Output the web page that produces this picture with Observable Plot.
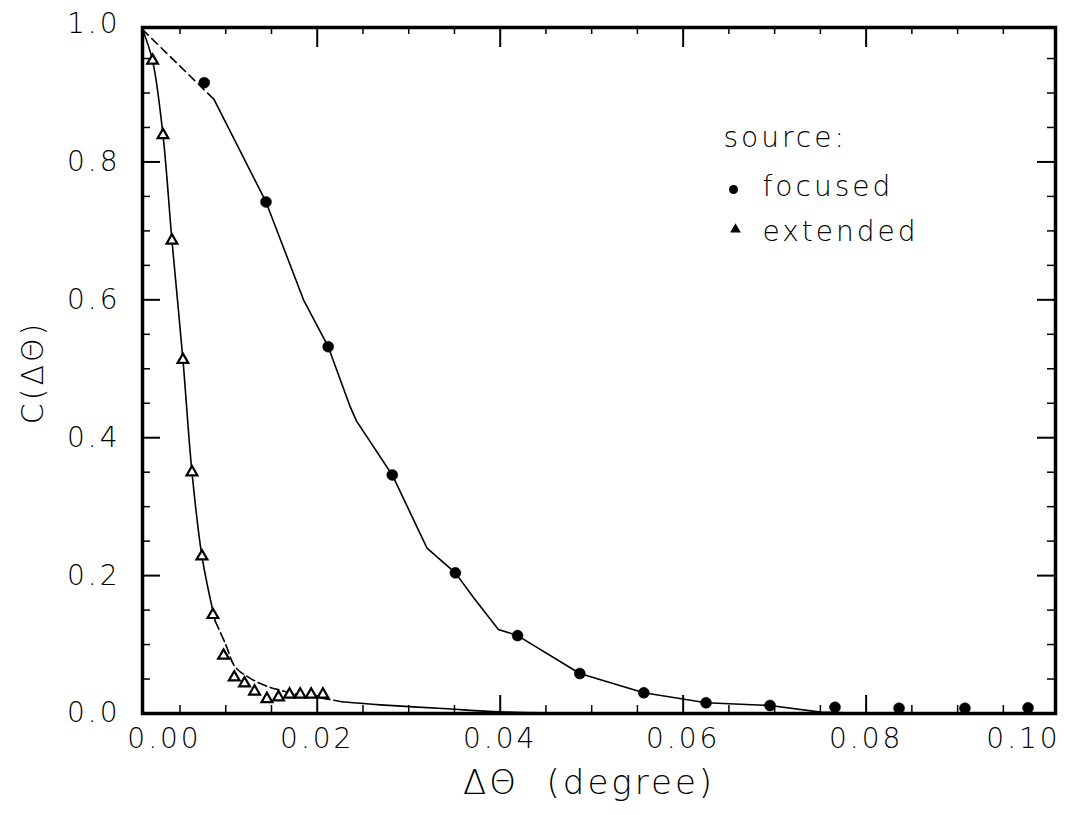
<!DOCTYPE html>
<html><head><meta charset="utf-8">
<script src="https://cdn.jsdelivr.net/npm/d3@7"></script>
<script src="https://cdn.jsdelivr.net/npm/@observablehq/plot@0.6"></script>
<style>
body{margin:0;background:#fff;}
#chart{width:1065px;height:815px;}
</style></head><body><div id="chart"></div>
<script>
// measured points: focused source (filled circles)
const focusedX = [0.00765, 0.0144, 0.0212, 0.0282, 0.0351, 0.0419, 0.0487, 0.0557, 0.0625, 0.0695, 0.0766, 0.0836, 0.0908, 0.0977];
const focusedY = [0.915, 0.742, 0.532, 0.346, 0.204, 0.113, 0.058, 0.030, 0.0155, 0.0116, 0.0091, 0.0077, 0.0077, 0.0082];
// measured points: extended source (open triangles)
const extendedX = [0.0020, 0.00314, 0.00412, 0.00532, 0.00631, 0.0074, 0.0086, 0.00976, 0.01093, 0.01205, 0.01315, 0.0145, 0.01577, 0.01697, 0.01814, 0.01934, 0.02062];
const extendedY = [0.947, 0.839, 0.686, 0.513, 0.350, 0.228, 0.143, 0.084, 0.0525, 0.0438, 0.032, 0.021, 0.0236, 0.0275, 0.0275, 0.0275, 0.0275];
// fitted curves
const fitFocusedX = [0.0009, 0.0087, 0.0144, 0.0185, 0.0212, 0.0236, 0.0243, 0.0282, 0.0320, 0.0351, 0.0371, 0.0398, 0.0419, 0.0487, 0.0557, 0.0625, 0.0695, 0.0750, 0.0805, 0.1000];
const fitFocusedY = [0.992, 0.891, 0.742, 0.600, 0.532, 0.445, 0.424, 0.346, 0.240, 0.204, 0.168, 0.122, 0.113, 0.058, 0.030, 0.0155, 0.0116, 0.002, 0.0, 0.0];
const fitExtendedX = [0.0009, 0.0020, 0.00314, 0.00412, 0.00532, 0.00631, 0.0074, 0.00885, 0.0100, 0.0110, 0.0125, 0.0143, 0.0161, 0.0180, 0.0200, 0.0227, 0.0269, 0.0342, 0.0400, 0.0500];
const fitExtendedY = [0.992, 0.947, 0.839, 0.686, 0.513, 0.350, 0.228, 0.134, 0.100, 0.068, 0.0525, 0.0405, 0.0333, 0.027, 0.0235, 0.017, 0.0125, 0.0068, 0.0025, 0.0];
// ticks and labels
const xTickValues = [0.02, 0.04, 0.06, 0.08];
const xEdgeLabels = ["0.00", "0.10"];
const yTickValues = [0.0, 0.2, 0.4, 0.6, 0.8, 1.0];
const xLabel = "ΔΘ  (degree)";
const yLabel = "C(ΔΘ)";
const legendTitle = "source:";
const legendLabels = ["focused", "extended"];

const xDomain = [0.0009, 0.1007];
const yDomain = [0, 0.995];

const W = 1065, H = 815, mT = 27, mR = 10, mB = 102, mL = 142;
const FH = H - mT - mB, FW = W - mL - mR;
const font = "'DejaVu Sans', sans-serif";

const toRows = (xs, ys) => xs.map((x, i) => ({x, y: ys[i]}));
const focused = toRows(focusedX, focusedY);
const extended = toRows(extendedX, extendedY);
const fitF = toRows(fitFocusedX, fitFocusedY);
const fitE = toRows(fitExtendedX, fitExtendedY);

const xMinor = d3.range(1, 20).map(i => i * 0.005).filter(v => !xTickValues.some(t => Math.abs(t - v) < 1e-9));
const yMinor = d3.range(1, 20).map(i => i * 0.05).filter(v => !yTickValues.some(t => Math.abs(t - v) < 1e-9));
const yMajorLines = yTickValues.filter(v => v > 0 && v < 1);

const tickStyle = {stroke: "black"};
const labelFont = {fontSize: 28, fontFamily: font, fill: "black"};
const legendFont = {fontSize: 28, fontFamily: font, fill: "black", letterSpacing: "4.5px"};

const chart = Plot.plot({
  width: W, height: H,
  marginTop: mT, marginRight: mR, marginBottom: mB, marginLeft: mL,
  x: {domain: xDomain, axis: null},
  y: {domain: yDomain, axis: null},
  style: {fontFamily: font, background: "white", color: "black", letterSpacing: "3px", fontWeight: 300},
  marks: [
    // inward ticks, bottom
    Plot.tickX(xMinor, {x: d => d, insetTop: FH - 8, strokeWidth: 1.5, ...tickStyle}),
    Plot.tickX(xTickValues, {x: d => d, insetTop: FH - 18, strokeWidth: 2, ...tickStyle}),
    // top
    Plot.tickX(xMinor, {x: d => d, insetBottom: FH - 7, strokeWidth: 1.5, ...tickStyle}),
    Plot.tickX(xTickValues, {x: d => d, insetBottom: FH - 20, strokeWidth: 2, ...tickStyle}),
    // left
    Plot.tickY(yMinor, {y: d => d, insetRight: FW - 8, strokeWidth: 1.5, ...tickStyle}),
    Plot.tickY(yMajorLines, {y: d => d, insetRight: FW - 18, strokeWidth: 2, ...tickStyle}),
    // right
    Plot.tickY(yMinor, {y: d => d, insetLeft: FW - 8, strokeWidth: 1.5, ...tickStyle}),
    Plot.tickY(yMajorLines, {y: d => d, insetLeft: FW - 18, strokeWidth: 2, ...tickStyle}),
    Plot.frame({stroke: "black", strokeWidth: 3.5}),
    // fitted curves
    Plot.line(fitF.slice(0, 2), {x: "x", y: "y", stroke: "black", strokeWidth: 1.6, strokeDasharray: "8,5"}),
    Plot.line(fitF.slice(1), {x: "x", y: "y", stroke: "black", strokeWidth: 1.6}),
    Plot.line(fitE.filter(d => d.x <= 0.00885), {x: "x", y: "y", stroke: "black", strokeWidth: 1.6, curve: "catmull-rom"}),
    Plot.line(fitE.filter(d => d.x >= 0.00885 && d.x <= 0.0227), {x: "x", y: "y", stroke: "black", strokeWidth: 1.6, curve: "catmull-rom", strokeDasharray: "9,4"}),
    Plot.line(fitE.filter(d => d.x >= 0.0227), {x: "x", y: "y", stroke: "black", strokeWidth: 1.6, curve: "catmull-rom"}),
    // data points
    Plot.dot(focused, {x: "x", y: "y", r: 5.5, fill: "black", stroke: "black", strokeWidth: 0.5}),
    Plot.dot(extended, {x: "x", y: "y", symbol: "triangle", r: 4, fill: "white", stroke: "black", strokeWidth: 2.2}),
    // tick labels
    Plot.text(xTickValues, {x: d => d, text: d => d3.format(".2f")(d), frameAnchor: "bottom", lineAnchor: "top", dy: 15, ...labelFont}),
    Plot.text([xEdgeLabels[0]], {frameAnchor: "bottom-left", textAnchor: "middle", lineAnchor: "top", dy: 15, dx: 22, ...labelFont}),
    Plot.text([xEdgeLabels[1]], {frameAnchor: "bottom-right", textAnchor: "middle", lineAnchor: "top", dy: 15, dx: -32, ...labelFont}),
    Plot.text(yTickValues, {y: d => d, text: d => d3.format(".1f")(d), frameAnchor: "left", textAnchor: "end", dx: -22, ...labelFont}),
    // axis titles
    Plot.text([xLabel], {frameAnchor: "bottom", dx: -10, dy: 80, fontSize: 34, fontFamily: font, fill: "black"}),
    Plot.text([yLabel], {frameAnchor: "left", textAnchor: "middle", dx: -109, dy: 2, rotate: -90, fontSize: 30, fontFamily: font, fill: "black"}),
    // legend
    Plot.text([legendTitle], {frameAnchor: "top-left", textAnchor: "start", lineAnchor: "bottom", dx: 581, dy: 119, ...legendFont}),
    Plot.dot([legendLabels[0]], {frameAnchor: "top-left", dx: 591, dy: 162, r: 4.5, fill: "black"}),
    Plot.text([legendLabels[0]], {frameAnchor: "top-left", textAnchor: "start", lineAnchor: "bottom", dx: 620, dy: 168, ...legendFont}),
    Plot.dot([legendLabels[1]], {frameAnchor: "top-left", dx: 593, dy: 202, r: 4, symbol: "triangle", fill: "black"}),
    Plot.text([legendLabels[1]], {frameAnchor: "top-left", textAnchor: "start", lineAnchor: "bottom", dx: 620, dy: 213, ...legendFont})
  ]
});
document.getElementById("chart").appendChild(chart);
</script></body></html>
